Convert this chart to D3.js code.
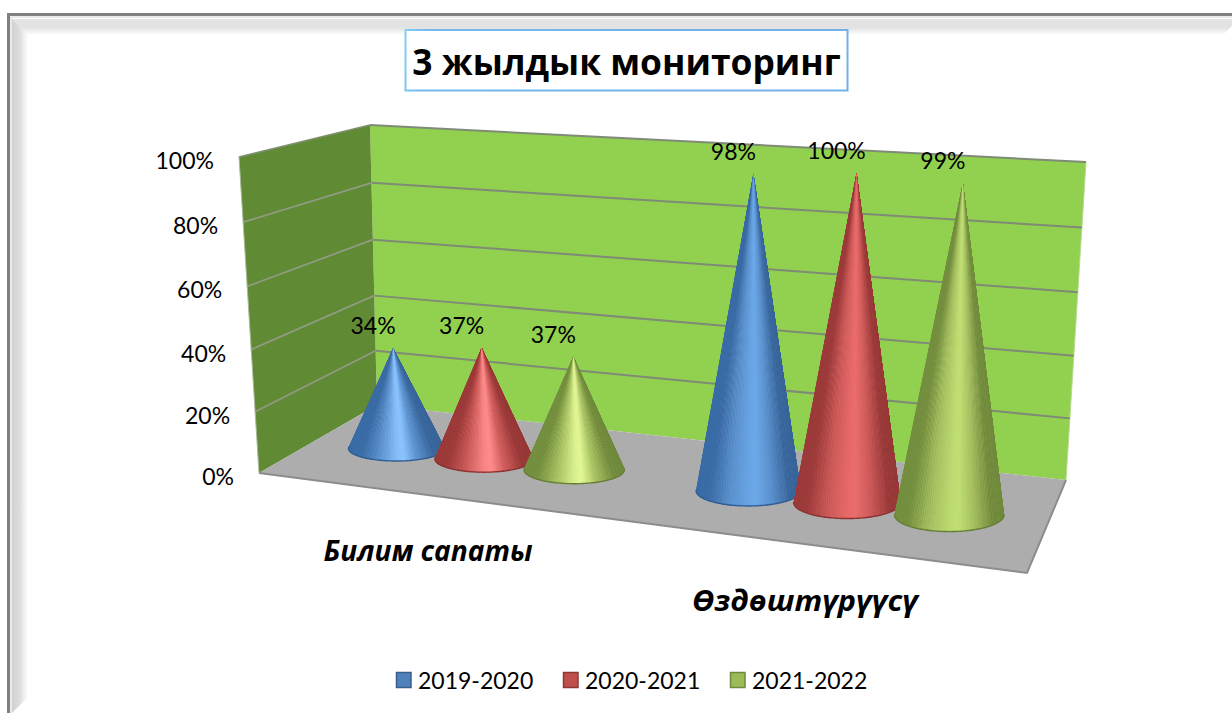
<!DOCTYPE html>
<html><head><meta charset="utf-8">
<script src="https://cdn.jsdelivr.net/npm/d3@7/dist/d3.min.js"></script>
<style>html,body{margin:0;padding:0;background:#fff;overflow:hidden}svg{display:block}text{fill:#000}</style>
</head><body><svg id="c" width="1232" height="713"></svg>
<script>
const title = "3 жылдык мониторинг";
const categories = ["Билим сапаты", "Өздөштүрүүсү"];
const seriesNames = ["2019-2020", "2020-2021", "2021-2022"];
const series2019 = [0.34, 0.98];
const series2020 = [0.37, 1.00];
const series2021 = [0.37, 0.99];
const seriesValues = [series2019, series2020, series2021];
const valueTicks = [0, 0.2, 0.4, 0.6, 0.8, 1];

const swatchFill = ["#4f81bd", "#c0504d", "#9bbb59"];
const swatchStroke = ["#385d8a", "#8c3836", "#71893f"];
// shading across a cone, left silhouette -> right silhouette
const shade = [
  {edgeL:"#3a6ca6", mid:"#5a90cc", lowHi:"#8cc4ff", tallHi:"#6ca8e8", edgeR:"#386499", rim:"#2f5d94"},
  {edgeL:"#9c3b3a", mid:"#cc5a59", lowHi:"#ff8c8c", tallHi:"#ea6c6c", edgeR:"#963837", rim:"#8a3433"},
  {edgeL:"#748f3f", mid:"#a5bf60", lowHi:"#e2f795", tallHi:"#c0df74", edgeR:"#70893c", rim:"#667f37"}
];

const svg = d3.select("#c");
const defs = svg.append("defs");
const lerp = (a, b, t) => a + (b - a) * t;

// ---- picture frame
const gT = defs.append("linearGradient").attr("id","gT").attr("x1",0).attr("y1",0).attr("x2",0).attr("y2",1);
gT.append("stop").attr("offset",0).attr("stop-color","#e4e4e4");
gT.append("stop").attr("offset",.55).attr("stop-color","#e2e2e2");
gT.append("stop").attr("offset",1).attr("stop-color","#ffffff");
const gL = defs.append("linearGradient").attr("id","gL");
gL.append("stop").attr("offset",0).attr("stop-color","#d0d0d0");
gL.append("stop").attr("offset",.5).attr("stop-color","#dedede");
gL.append("stop").attr("offset",1).attr("stop-color","#ffffff");
const line = d3.line();
svg.append("path").attr("d", line([[12,19],[1232,19],[1232,26],[1223,35],[28,35]])+"Z").attr("fill","url(#gT)");
svg.append("path").attr("d", line([[12,19],[28,35],[28,697],[12,713]])+"Z").attr("fill","url(#gL)");
svg.append("path").attr("d", line([[8.5,713],[8.5,14.5],[1232,14.5]])).attr("fill","none").attr("stroke","#808080").attr("stroke-width",3);
svg.append("path").attr("d", line([[11,713],[11,17],[1232,17]])).attr("fill","none").attr("stroke","#d4d4d4").attr("stroke-width",1);

// ---- projection of the 3D box
const corner = {
  FL:{b:[259,473], top:[239,157]},
  BL:{b:[377,405], top:[370,125]},
  BR:{b:[1066,480], top:[1086,162]},
  FR:{b:[1027,573], top:[1043,209]}
};
const warp = (t, w) => t / (t + w * (1 - t));
const yFrac = d3.scaleLinear().domain([0, 1]).range([0, 1]);
const hFrac = v => warp(yFrac(v), 1.04);
const onEdge = (c, v) => {const h = hFrac(v); return [lerp(c.b[0], c.top[0], h), lerp(c.b[1], c.top[1], h)];};
// floor point: u across (0 left..1 right), d depth (0 front..1 back)
function bil(key, u, d) {
  const f = [lerp(corner.FL[key][0], corner.FR[key][0], u), lerp(corner.FL[key][1], corner.FR[key][1], u)];
  const b = [lerp(corner.BL[key][0], corner.BR[key][0], u), lerp(corner.BL[key][1], corner.BR[key][1], u)];
  return [lerp(f[0], b[0], d), lerp(f[1], b[1], d)];
}
const xCat = d3.scaleBand().domain(categories).range([0, 1]);
const xSer = d3.scaleBand().domain(seriesNames).range([0, xCat.bandwidth()]).paddingInner(0).paddingOuter(0.423);
const uOf = t => warp(t, 1.13);

// ---- walls and floor
const poly = (pts, fill, stroke) => svg.append("path").attr("d", line(pts)+"Z").attr("fill",fill).attr("stroke",stroke||"none");
poly([corner.BL.b, corner.BL.top, corner.BR.top, corner.BR.b], "#91d14f");
poly([corner.FL.b, corner.FL.top, corner.BL.top, corner.BL.b], "#608a33");
poly([corner.FL.b, corner.BL.b, corner.BR.b, corner.FR.b], "#adadad");
svg.append("path").attr("d", line([corner.FL.b, corner.FR.b, corner.BR.b])).attr("fill","none").attr("stroke","#8c8c8c").attr("stroke-width",2);
svg.append("path").attr("d", line([corner.FL.b, corner.FL.top])).attr("fill","none").attr("stroke","#a9b99a").attr("stroke-width",1);
svg.append("path").attr("d", line([corner.BR.b, corner.BR.top])).attr("fill","none").attr("stroke","#b5d98f").attr("stroke-width",1);

// ---- gridlines and tick labels
valueTicks.forEach(v => {
  const a = onEdge(corner.FL, v), b = onEdge(corner.BL, v), c = onEdge(corner.BR, v);
  if (v > 0) {
    svg.append("path").attr("d", line([a, b])).attr("fill","none").attr("stroke", v === 1 ? "#7e8f6d" : "#8f9c82").attr("stroke-width",1.8);
    svg.append("path").attr("d", line([b, c])).attr("fill","none").attr("stroke","#7f8a77").attr("stroke-width",2);
  }
  svg.append("text").attr("x", a[0] - 25).attr("y", a[1] + 12)
    .attr("text-anchor","end").attr("font-family","Lato").attr("font-size",23)
    .text(d3.format(".0%")(v));
});

// ---- cones
const N = 80;
categories.forEach((cat, ci) => {
  seriesNames.forEach((sn, si) => {
    const val = seriesValues[si][ci];
    const t = xCat(cat) + xSer(sn) + xSer.bandwidth() / 2;
    const u = uOf(t), depth = 0.5;
    const c = bil("b", u, depth), tp = bil("top", u, depth);
    const h = hFrac(val);
    const apex = [lerp(c[0], tp[0], h), lerp(c[1], tp[1], h)];
    const rx = 47 + 9 * u, ry = 12 + 5.5 * u;
    const s = shade[si];
    const hi = val < 0.5 ? s.lowHi : s.tallHi;
    const col = d3.scaleLinear().domain([0, .1, .3, .5, .58, .72, .9, 1])
      .range([s.edgeL, s.edgeL, s.mid, d3.interpolateRgb(s.mid, hi)(.85), hi, s.mid, s.edgeR, s.edgeR]).interpolate(d3.interpolateRgb);
    const th0 = -Math.asin(Math.min(.9, ry / (c[1] - apex[1])));
    const g = svg.append("g");
    const ang = d3.range(N + 1).map(i => lerp(Math.PI - th0, th0, i / N));
    const pt = a => [c[0] + rx * Math.cos(a), c[1] + ry * Math.sin(a)];
    const share = i => (Math.cos(ang[i]) + 1) / 2;
    // nested fans that shrink toward the highlight, so no seams show between them
    const hiIdx = d3.bisector(share).left(ang.map((_, i) => i), 0.56);
    let lo = 0, up = N;
    while (lo < up) {
      const fromLeft = Math.abs(share(lo) - .56) >= Math.abs(share(up) - .56);
      const cc = col(fromLeft ? (share(lo) + share(lo + 1)) / 2 : (share(up) + share(up - 1)) / 2);
      const arc = d3.range(lo, up + 1).map(i => pt(ang[i]));
      g.append("path").attr("d", line([apex, ...arc]) + "Z").attr("fill", cc);
      if (fromLeft) lo += 1; else up -= 1;
    }
    // rim on the front of the base
    g.append("path").attr("d", line(ang.map(pt))).attr("fill","none").attr("stroke", s.rim).attr("stroke-width",1.4);
    // data label
    svg.append("text").attr("class","dl").attr("x", apex[0] - 20).attr("y", apex[1] - 14)
      .attr("text-anchor","middle").attr("font-family","Lato").attr("font-size",23)
      .text(d3.format(".0%")(val));
  });
});
svg.selectAll("text.dl").raise();

// ---- category labels
const catLabelWidth = [209, 226];
categories.forEach((cat, i) => {
  const t = xCat(cat) + xCat.bandwidth() / 2;
  const u = uOf(t);
  const p = bil("b", u, 0);
  svg.append("text").attr("x", p[0] - 3.2 - 12 * u).attr("y", p[1] + 65)
    .attr("text-anchor","middle").attr("font-family","Open Sans").attr("font-weight",700).attr("font-style","italic")
    .attr("font-size",28).attr("textLength",catLabelWidth[i]).attr("lengthAdjust","spacingAndGlyphs").text(cat);
});

// ---- title
const gB = defs.append("linearGradient").attr("id","gB").attr("gradientUnits","userSpaceOnUse").attr("x1",405).attr("y1",30).attr("x2",850).attr("y2",90);
gB.append("stop").attr("offset",0).attr("stop-color","#7fd0f0");
gB.append("stop").attr("offset",.06).attr("stop-color","#74b6ee");
gB.append("stop").attr("offset",1).attr("stop-color","#74b0e6");
svg.append("rect").attr("x",405.5).attr("y",30).attr("width",442).attr("height",60.5)
  .attr("fill","#fff").attr("stroke","url(#gB)").attr("stroke-width",2);
svg.append("text").attr("x",626.5).attr("y",75).attr("text-anchor","middle")
  .attr("font-family","Open Sans").attr("font-weight",700).attr("font-size",35.4).text(title);

// ---- legend
const legendX = d3.scalePoint().domain(seriesNames).range([396.5, 730.5]);
seriesNames.forEach((sn, i) => {
  const x = legendX(sn);
  svg.append("rect").attr("x",x).attr("y",672.5).attr("width",14.5).attr("height",15)
    .attr("fill",swatchFill[i]).attr("stroke",swatchStroke[i]).attr("stroke-width",1.5);
  svg.append("text").attr("x",x + 21.5).attr("y",688.5).attr("font-family","Lato").attr("font-size",23).text(sn);
});
</script></body></html>
